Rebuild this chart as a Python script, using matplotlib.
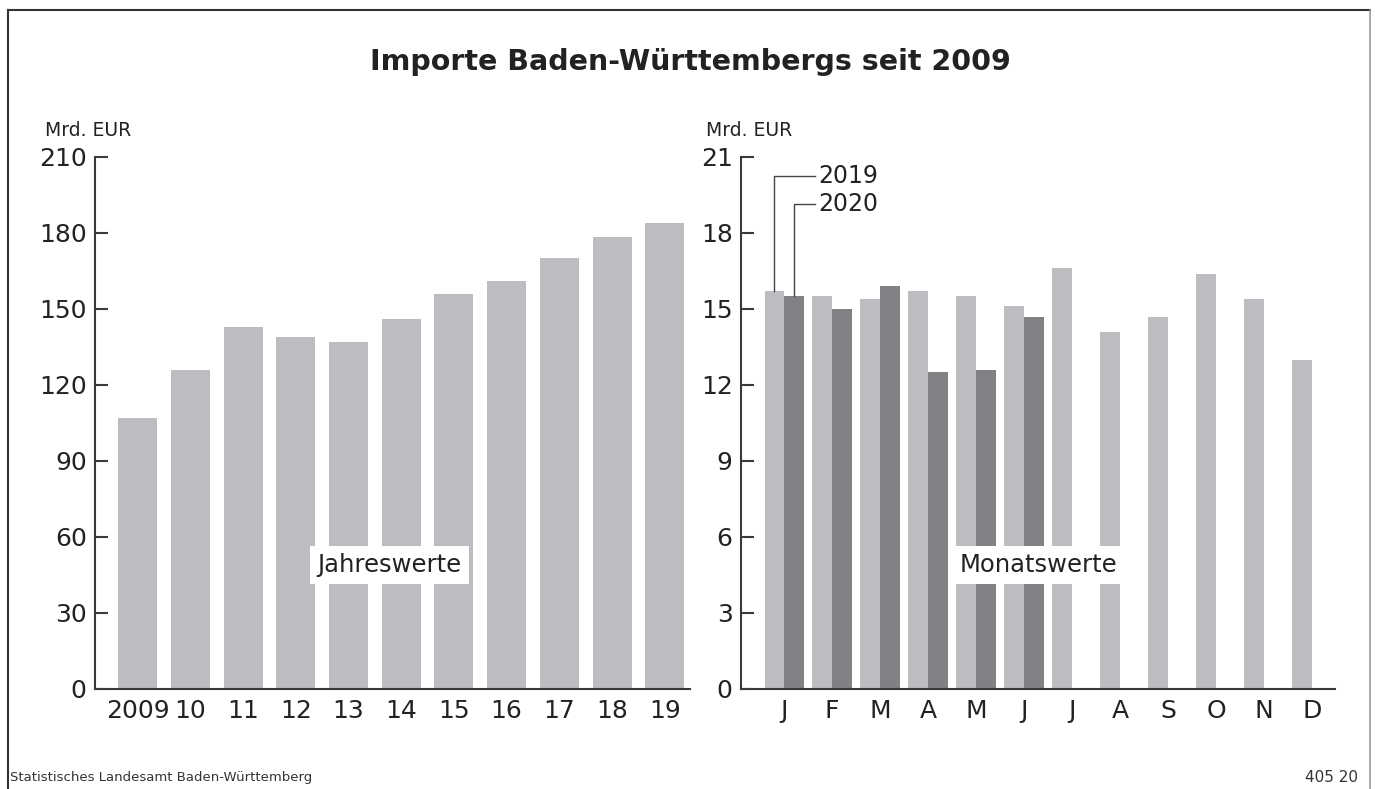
import matplotlib
matplotlib.use("Agg")
import matplotlib.pyplot as plt
import numpy as np

plt.rcParams["font.family"] = ["DejaVu Sans"]

years = ["2009", "10", "11", "12", "13", "14", "15", "16", "17", "18", "19"]
annual = [107, 126, 143, 139, 137, 146, 156, 161, 170, 178.5, 184]

months = ["J", "F", "M", "A", "M", "J", "J", "A", "S", "O", "N", "D"]
m2019 = [15.7, 15.5, 15.4, 15.7, 15.5, 15.1, 16.6, 14.1, 14.7, 16.4, 15.4, 13.0]
m2020 = [15.5, 15.0, 15.9, 12.5, 12.6, 14.7]

light = "#bcbdc1"
dark = "#808185"
txt = "#222222"
axcol = "#3a3a3a"

W, H = 1375, 789
fig = plt.figure(figsize=(W / 100, H / 100), dpi=100)


def px(x0, y0, x1, y1):
    return [x0 / W, 1 - y1 / H, (x1 - x0) / W, (y1 - y0) / H]


def style(ax, top, step, unit_x):
    for s in ["top", "right"]:
        ax.spines[s].set_visible(False)
    for s in ["left", "bottom"]:
        ax.spines[s].set_color(axcol)
        ax.spines[s].set_linewidth(1.5)
    ax.set_ylim(0, top)
    ax.set_yticks(np.arange(0, top + 0.1, step))
    ax.tick_params(axis="y", direction="in", length=9, width=1.5, color=axcol,
                   labelsize=18, labelcolor=txt, pad=6)
    ax.tick_params(axis="x", length=0, labelsize=18, labelcolor=txt, pad=7)
    fig.text(unit_x / W, 1 - 130 / H, "Mrd. EUR", fontsize=13.5,
             color=txt, ha="left", va="center")


# left: annual values
ax1 = fig.add_axes(px(95, 157, 690, 689))
x1 = np.arange(len(years))
ax1.bar(x1, annual, width=0.74, color=light, zorder=2)
ax1.set_xlim(-0.81, 10.48)
ax1.set_xticks(x1)
ax1.set_xticklabels(years)
style(ax1, 210, 30, 45)
ax1.text(4.78, 49, "Jahreswerte", fontsize=17.5, color=txt, ha="center", va="center",
         zorder=3, bbox=dict(boxstyle="square,pad=0.3", fc="white", ec="none"))

# right: monthly values
ax2 = fig.add_axes(px(741, 157, 1335, 689))
x2 = np.arange(len(months))
bw = 0.41
ax2.bar(x2 - bw / 2, m2019, width=bw, color=light, zorder=2)
ax2.bar(x2[:len(m2020)] + bw / 2, m2020, width=bw, color=dark, zorder=2)
ax2.set_xlim(-0.9, 11.48)
ax2.set_xticks(x2)
ax2.set_xticklabels(months)
style(ax2, 21, 3, 706)
ax2.text(5.3, 4.9, "Monatswerte", fontsize=17.5, color=txt, ha="center", va="center",
         zorder=3, bbox=dict(boxstyle="square,pad=0.3", fc="white", ec="none"))

# series labels with leader lines
lx = 0.65
ax2.plot([-bw / 2, -bw / 2, lx], [m2019[0], 20.25, 20.25], color="#444444", lw=1, zorder=3)
ax2.plot([bw / 2, bw / 2, lx], [m2020[0], 19.15, 19.15], color="#444444", lw=1, zorder=3)
ax2.text(lx + 0.06, 20.25, "2019", fontsize=17, color=txt, va="center")
ax2.text(lx + 0.06, 19.15, "2020", fontsize=17, color=txt, va="center")

# title, frame and footer
fig.text(690 / W, 1 - 62 / H, "Importe Baden-Württembergs seit 2009", fontsize=20.5,
         fontweight="bold", color=txt, ha="center", va="center")
fig.add_artist(plt.Line2D([8 / W, 8 / W], [0, 1 - 10 / H], color="#333333", lw=1.5))
fig.add_artist(plt.Line2D([8 / W, 1370 / W], [1 - 10 / H, 1 - 10 / H], color="#333333", lw=1.5))
fig.add_artist(plt.Line2D([1370 / W, 1370 / W], [0, 1 - 10 / H], color="#999999", lw=1.2))
fig.text(10 / W, 1 - 778 / H, "Statistisches Landesamt Baden-Württemberg", fontsize=9.5,
         color="#333333", ha="left", va="center")
fig.text(1358 / W, 1 - 778 / H, "405 20", fontsize=11, color="#333333",
         ha="right", va="center")

fig.savefig("out.png", dpi=100, facecolor="white")
